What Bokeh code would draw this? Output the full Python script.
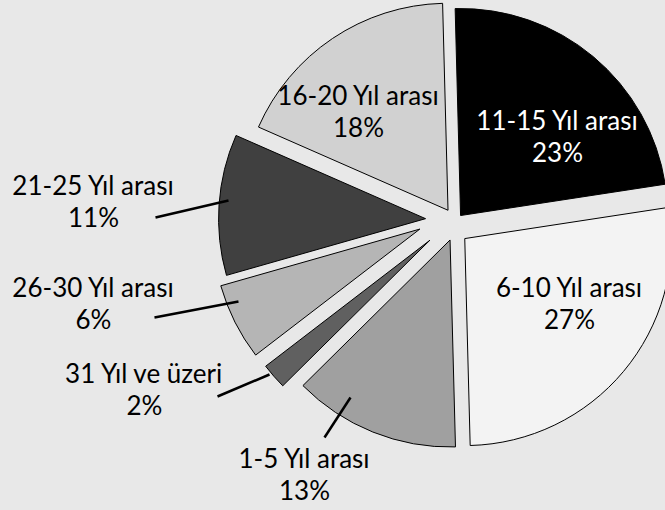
import math
from bokeh.plotting import figure
from bokeh.core.properties import value
from bokeh.embed import file_html
from bokeh.resources import INLINE

# ---- data (clockwise from 12 o'clock) ----
categories = ["11-15 Yıl arası", "6-10 Yıl arası", "1-5 Yıl arası", "31 Yıl ve üzeri",
              "26-30 Yıl arası", "21-25 Yıl arası", "16-20 Yıl arası"]
percents = [23, 27, 13, 2, 6, 11, 18]

# ---- styles / layout ----
colors = ["#000000", "#f3f3f3", "#a0a0a0", "#606060", "#b5b5b5", "#404040", "#d1d1d1"]
text_colors = ["white", "black", "black", "black", "black", "black", "black"]
BG = "#e8e8e8"
W, H = 665, 510
OFF = 0                      # page offset: reference px -> plot px
R = 207                      # pie radius (px)
CENTER = (452, 220)          # pie centre, reference px
START = -1.5                 # degrees, clockwise from 12 o'clock
explode = [9, 21, 19, 30, 33, 27, 11]     # radial offset of each slice (px)
nudge = [3, 6, -5, 0, 7, 0, 2]            # sideways offset of each slice (px)
# label anchor (centre x, baseline of first line) in reference px
label_pos = [(557, 119), (569, 286), (304, 457), (144, 372), (93, 286), (93, 184), (358, 94)]
LINE_GAP = 32
# leader lines (outer end, inner end) in reference px
leaders = [None, None, ((324, 437), (350, 397)), ((217, 396), (269, 374)),
           ((154, 317), (238, 301)), ((155, 217), (228, 200)), None]

FONT = "Lato"
FONT_SIZE = "26px"


def px(x, y):
    return x - OFF, (H + OFF) - y


p = figure(width=W, height=H, x_range=(0, W), y_range=(0, H),
           output_backend="svg", toolbar_location=None, min_border=0)
p.axis.visible = False
p.grid.visible = False
p.outline_line_color = None
p.background_fill_color = BG
p.border_fill_color = BG

cx, cy = px(*CENTER)
xs, ys, sa, ea = [], [], [], []
cum = START
for pct, d, t in zip(percents, explode, nudge):
    t1 = cum
    t2 = cum + pct * 3.6
    b = math.radians((t1 + t2) / 2)
    xs.append(cx + d * math.sin(b) + t * math.cos(b))
    ys.append(cy + d * math.cos(b) - t * math.sin(b))
    sa.append(math.radians(90 - t2))
    ea.append(math.radians(90 - t1))
    cum = t2

p.wedge(x=xs, y=ys, radius=R, start_angle=sa, end_angle=ea, direction="anticlock",
        fill_color=colors, line_color="black", line_width=1)

for ld in leaders:
    if ld is None:
        continue
    (x0, y0), (x1, y1) = ld
    a0 = px(x0, y0)
    a1 = px(x1, y1)
    p.line(x=[a0[0], a1[0]], y=[a0[1], a1[1]], line_color="black", line_width=2.5)

tx, ty, tt, tc = [], [], [], []
for cat, pct, (lx, ly), col in zip(categories, percents, label_pos, text_colors):
    x, y = px(lx, ly)
    tx += [x, x]
    ty += [y, y - LINE_GAP]
    tt += [cat, f"{pct}%"]
    tc += [col, col]

p.text(x=tx, y=ty, text=tt, text_color=tc, text_align="center", text_baseline="alphabetic",
       text_font=value(FONT), text_font_size=FONT_SIZE)

html = file_html(p, INLINE)
html = html.replace("<head>", "<head><style>body{background:%s;}</style>" % BG, 1)
open("out.html", "w").write(html)
